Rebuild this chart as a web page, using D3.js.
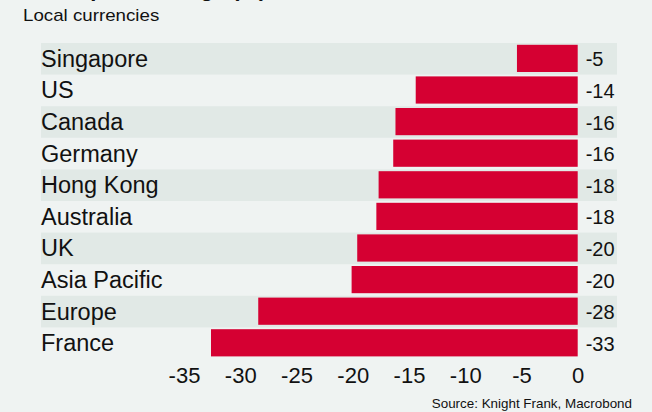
<!DOCTYPE html>
<html><head><meta charset="utf-8">
<script src="https://cdn.jsdelivr.net/npm/d3@7"></script>
<style>html,body{margin:0;padding:0;background:#eff3f2;}svg{display:block;font-family:"Liberation Sans",Arial,sans-serif;}</style>
</head><body>
<svg id="c" width="652" height="412"></svg>
<script>
const categories = ["Singapore","US","Canada","Germany","Hong Kong","Australia","UK","Asia Pacific","Europe","France"];
const values = [-5.4,-14.4,-16.2,-16.4,-17.7,-17.9,-19.6,-20.1,-28.4,-32.6];
const valueLabels = ["-5","-14","-16","-16","-18","-18","-20","-20","-28","-33"];
const tickValues = [-35,-30,-25,-20,-15,-10,-5,0];

const svg = d3.select("#c");
svg.append("rect").attr("width",652).attr("height",412).attr("fill","#eff3f2");

svg.append("text").attr("x",23).attr("y",-4.5).attr("font-size",22).attr("font-weight","bold")
  .attr("fill","#111").text("Prime price change (%)");
svg.append("text").attr("transform","translate(23,21) scale(1.17,1)").attr("font-size",16)
  .attr("fill","#111").text("Local currencies");

const x = d3.scaleLinear().domain([-35,0]).range([184,577.7]);
const y = d3.scaleBand().domain(categories).range([43,359]).padding(0);

// alternating bands
svg.selectAll("rect.band").data(categories.filter((d,i)=>i%2===0)).enter().append("rect")
  .attr("class","band").attr("x",41).attr("width",576)
  .attr("y",d=>y(d)).attr("height",y.bandwidth()).attr("fill","#e1e9e6");

// bars
svg.selectAll("rect.bar").data(categories).enter().append("rect")
  .attr("class","bar")
  .attr("x",(d,i)=>x(values[i])).attr("width",(d,i)=>x(0)-x(values[i]))
  .attr("y",d=>y(d)+1.8).attr("height",y.bandwidth()-4.4)
  .attr("fill","#d50032");

// category labels
svg.selectAll("text.cat").data(categories).enter().append("text")
  .attr("class","cat").attr("x",41).attr("y",d=>y(d)+y.bandwidth()/2+8)
  .attr("font-size",23.5).attr("fill","#111").text(d=>d);

// value labels
svg.selectAll("text.val").data(categories).enter().append("text")
  .attr("class","val").attr("x",x(0)+8).attr("y",d=>y(d)+y.bandwidth()/2+7.5)
  .attr("font-size",20).attr("fill","#111").text((d,i)=>valueLabels[i]);

// x axis
const ax = svg.append("g").attr("transform","translate(0,360)")
  .call(d3.axisBottom(x).tickValues(tickValues).tickSize(0).tickPadding(0)
    .tickFormat(d => String(d)));
ax.select(".domain").remove();
ax.selectAll("text").attr("font-size",22).attr("fill","#111").attr("dy","0").attr("y",22.5)
  .attr("font-family","Liberation Sans, Arial, sans-serif");

svg.append("text").attr("x",632).attr("y",408).attr("text-anchor","end")
  .attr("font-size",13.4).attr("fill","#111").text("Source: Knight Frank, Macrobond");
</script>
</body></html>
